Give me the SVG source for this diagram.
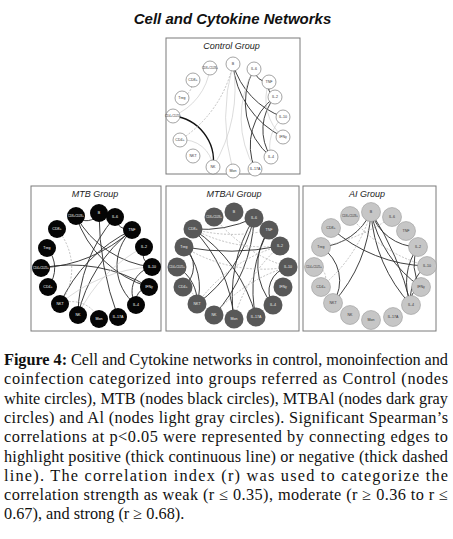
<svg xmlns="http://www.w3.org/2000/svg" width="453" height="539" viewBox="0 0 453 539">
<style>
.bg{fill:#fff}
.panel{fill:#fff;stroke:#7a7a7a;stroke-width:1}
.title{font-family:"Liberation Sans",Arial,sans-serif;font-weight:bold;font-style:italic;font-size:15px;text-anchor:middle;fill:#111}
.ptitle{font-family:"Liberation Sans",Arial,sans-serif;font-style:italic;font-size:9px;text-anchor:middle;fill:#222}
.cap{font-family:"Liberation Serif","Times New Roman",serif;font-size:16.3px;fill:#111}
.e{fill:none}
.s{stroke:#2a2a2a;stroke-width:.9}
.t{stroke:#111;stroke-width:1.3}
.g{stroke:#c4c4c4;stroke-width:.6}
.d{stroke:#a8a8a8;stroke-width:.7;stroke-dasharray:2 1.5}
.lbl{font-family:"Liberation Sans",Arial,sans-serif;font-size:3.6px;text-anchor:middle;dominant-baseline:central}
.sm{font-size:2.8px}
.ctl circle{fill:#fff;stroke:#666;stroke-width:.6}
.ctl text{fill:#333}
.mtb circle{fill:#050505}
.mtb text{fill:#fff}
.mtbai circle{fill:#585858}
.mtbai text{fill:#eee}
.ai circle{fill:#c6c6c6;stroke:#8c8c8c;stroke-width:.5}
.ai text{fill:#333}
</style>
<rect class="bg" x="0" y="0" width="453" height="539"/>
<text class="title" x="232.5" y="24">Cell and Cytokine Networks</text>

<rect class="panel" x="166" y="38" width="134" height="136"/>
<rect class="panel" x="31" y="186" width="130" height="145"/>
<rect class="panel" x="166" y="186" width="133" height="145"/>
<rect class="panel" x="303" y="186" width="133" height="145"/>
<text class="ptitle" x="231.5" y="49">Control Group</text>
<text class="ptitle" x="95" y="197">MTB Group</text>
<text class="ptitle" x="234" y="197">MTBAI Group</text>
<text class="ptitle" x="367" y="197">AI Group</text>

<g id="connectors" class="e">
<!-- control -->
<path class="s" d="M233 64 A80 80 0 0 0 283 117"/>
<path class="s" d="M233 64 A90 90 0 0 0 283 137"/>
<path class="s" d="M254 69 A14 14 0 0 0 269 82"/>
<path class="s" d="M269 82 A12 12 0 0 0 275 97"/>
<path class="s" d="M275 97 A60 60 0 0 0 255 169"/>
<path class="s" d="M254 69 A70 70 0 0 0 271 157"/>
<path class="s" d="M275 97 A50 50 0 0 0 271 157"/>
<path class="t" d="M213 167 A45 45 0 0 0 173 116"/>
<path class="d" d="M180 140 A120 120 0 0 0 233 64"/>
<path class="d" d="M182 98 A20 20 0 0 0 193 80"/>
<path class="g" d="M233 64 A200 200 0 0 0 233 171"/>
<path class="g" d="M213 167 A150 150 0 0 0 233 64"/>
<path class="g" d="M173 116 A60 60 0 0 0 210 68"/>
<path class="g" d="M213 167 A30 30 0 0 0 180 140"/>
<path class="g" d="M283 117 A40 40 0 0 0 271 157"/>
<path class="g" d="M269 82 A50 50 0 0 0 283 137"/>
<path class="g" d="M254 69 A100 100 0 0 0 255 169"/>
<!-- MTB -->
<path class="s" d="M76 216 A14 14 0 0 0 99 213"/>
<path class="s" d="M99 213 A300 300 0 0 0 118 317"/>
<path class="s" d="M76 216 A100 100 0 0 0 152 267"/>
<path class="s" d="M76 216 A110 110 0 0 0 149 287"/>
<path class="s" d="M41 268 A150 150 0 0 0 132 230"/>
<path class="s" d="M132 230 A150 150 0 0 0 78 315"/>
<path class="s" d="M132 230 A150 150 0 0 0 60 304"/>
<path class="s" d="M132 230 A50 50 0 0 0 136 305"/>
<path class="s" d="M149 287 A150 150 0 0 0 41 268"/>
<path class="s" d="M144 247 A15 15 0 0 0 152 267"/>
<path class="s" d="M152 267 A25 25 0 0 0 136 305"/>
<path class="s" d="M48 287 A30 30 0 0 0 47 248"/>
<path class="s" d="M115 217 A15 15 0 0 0 132 230"/>
<path class="s" d="M115 217 A150 150 0 0 0 78 315"/>
<path class="s" d="M149 287 A15 15 0 0 0 136 305"/>
<path class="d" d="M60 304 A60 60 0 0 0 57 229"/>
<path class="g" d="M152 267 A150 150 0 0 0 60 304"/>
<path class="g" d="M144 247 A150 150 0 0 0 78 315"/>
<path class="d" d="M99 319 A30 30 0 0 0 60 304"/>
<!-- MTBAI -->
<path class="s" d="M193 229 A120 120 0 0 0 254 218"/>
<path class="s" d="M197 304 A150 150 0 0 0 254 218"/>
<path class="s" d="M214 315 A150 150 0 0 0 254 218"/>
<path class="s" d="M234 319 A150 150 0 0 0 193 229"/>
<path class="s" d="M256 317 A150 150 0 0 0 193 229"/>
<path class="s" d="M184 247 A250 250 0 0 0 280 246"/>
<path class="s" d="M269 230 A120 120 0 0 0 256 317"/>
<path class="s" d="M288 267 A25 25 0 0 0 273 305"/>
<path class="s" d="M183 287 A25 25 0 0 0 184 247"/>
<path class="s" d="M197 304 A40 40 0 0 0 177 267"/>
<path class="s" d="M197 304 A60 60 0 0 0 184 247"/>
<path class="s" d="M269 230 A60 60 0 0 0 273 305"/>
<path class="s" d="M254 218 A150 150 0 0 0 234 319"/>
<path class="d" d="M193 229 A150 150 0 0 0 269 230"/>
<path class="d" d="M193 229 A150 150 0 0 0 280 246"/>
<path class="d" d="M184 247 A150 150 0 0 0 288 267"/>
<path class="d" d="M280 246 A150 150 0 0 0 197 304"/>
<path class="d" d="M288 267 A150 150 0 0 0 214 315"/>
<path class="d" d="M280 246 A150 150 0 0 0 234 319"/>
<path class="d" d="M197 304 A20 20 0 0 0 183 287"/>
<path class="d" d="M214 217 A150 150 0 0 0 288 267"/>
<!-- AI -->
<path class="s" d="M321 247 A60 60 0 0 0 371 212"/>
<path class="s" d="M333 303 A150 150 0 0 0 371 212"/>
<path class="s" d="M371 212 A50 50 0 0 0 418 247"/>
<path class="s" d="M371 212 A120 120 0 0 0 421 287"/>
<path class="s" d="M371 212 A150 150 0 0 0 411 305"/>
<path class="s" d="M371 212 A300 300 0 0 1 411 305"/>
<path class="s" d="M331 228 A150 150 0 0 0 427 266"/>
<path class="s" d="M333 303 A40 40 0 0 0 321 247"/>
<path class="s" d="M418 247 A60 60 0 0 0 411 305"/>
<path class="s" d="M418 247 A40 40 0 0 0 421 287"/>
<path class="s" d="M427 266 A40 40 0 0 0 411 305"/>
<path class="s" d="M421 287 A15 15 0 0 0 411 305"/>
<path class="d" d="M321 247 A200 200 0 0 0 392 217"/>
<path class="d" d="M321 287 A11 11 0 0 0 314 267"/>
<path class="d" d="M321 287 A150 150 0 0 0 371 212"/>
<path class="d" d="M350 216 A150 150 0 0 0 427 266"/>
</g>

<g class="ctl lbl">
<g id="c-B"><circle cx="233" cy="64" r="7"/><text x="233" y="64">B</text></g>
<g id="c-IL6"><circle cx="254" cy="69" r="7"/><text x="254" y="69">IL-6</text></g>
<g id="c-TNF"><circle cx="269" cy="82" r="7"/><text x="269" y="82">TNF</text></g>
<g id="c-IL2"><circle cx="275" cy="97" r="7"/><text x="275" y="97">IL-2</text></g>
<g id="c-IL10"><circle cx="283" cy="117" r="7"/><text x="283" y="117">IL-10</text></g>
<g id="c-IFNg"><circle cx="283" cy="137" r="7"/><text x="283" y="137">IFNγ</text></g>
<g id="c-IL4"><circle cx="271" cy="157" r="7"/><text x="271" y="157">IL-4</text></g>
<g id="c-IL17A"><circle cx="255" cy="169" r="7"/><text x="255" y="169">IL-17A</text></g>
<g id="c-Mon"><circle cx="233" cy="171" r="7"/><text x="233" y="171">Mon</text></g>
<g id="c-NK"><circle cx="213" cy="167" r="7"/><text x="213" y="167">NK</text></g>
<g id="c-NKT"><circle cx="193" cy="156" r="7"/><text x="193" y="156">NKT</text></g>
<g id="c-CD4"><circle cx="180" cy="140" r="7"/><text x="180" y="140">CD4+</text></g>
<g id="c-CD4CD25"><circle cx="173" cy="116" r="7"/><text class="sm" x="173" y="116">CD4+CD25+</text></g>
<g id="c-Treg"><circle cx="182" cy="98" r="7"/><text x="182" y="98">Treg</text></g>
<g id="c-CD8"><circle cx="193" cy="80" r="7"/><text x="193" y="80">CD8+</text></g>
<g id="c-CD8CD28"><circle cx="210" cy="68" r="7"/><text class="sm" x="210" y="68">CD8+CD28+</text></g>
</g>

<g class="mtb lbl">
<g id="m-B"><circle cx="99" cy="213" r="9"/><text x="99" y="213">B</text></g>
<g id="m-IL6"><circle cx="115" cy="217" r="9"/><text x="115" y="217">IL-6</text></g>
<g id="m-TNF"><circle cx="132" cy="230" r="9"/><text x="132" y="230">TNF</text></g>
<g id="m-IL2"><circle cx="144" cy="247" r="9"/><text x="144" y="247">IL-2</text></g>
<g id="m-IL10"><circle cx="152" cy="267" r="9"/><text x="152" y="267">IL-10</text></g>
<g id="m-IFNg"><circle cx="149" cy="287" r="9"/><text x="149" y="287">IFNγ</text></g>
<g id="m-IL4"><circle cx="136" cy="305" r="9"/><text x="136" y="305">IL-4</text></g>
<g id="m-IL17A"><circle cx="118" cy="317" r="9"/><text x="118" y="317">IL-17A</text></g>
<g id="m-Mon"><circle cx="99" cy="319" r="9"/><text x="99" y="319">Mon</text></g>
<g id="m-NK"><circle cx="78" cy="315" r="9"/><text x="78" y="315">NK</text></g>
<g id="m-NKT"><circle cx="60" cy="304" r="9"/><text x="60" y="304">NKT</text></g>
<g id="m-CD4"><circle cx="48" cy="287" r="9"/><text x="48" y="287">CD4+</text></g>
<g id="m-CD4CD25"><circle cx="41" cy="268" r="9"/><text class="sm" x="41" y="268">CD4+CD25+</text></g>
<g id="m-Treg"><circle cx="47" cy="248" r="9"/><text x="47" y="248">Treg</text></g>
<g id="m-CD8"><circle cx="57" cy="229" r="9"/><text x="57" y="229">CD8+</text></g>
<g id="m-CD8CD28"><circle cx="76" cy="216" r="9"/><text class="sm" x="76" y="216">CD8+CD28+</text></g>
</g>

<g class="mtbai lbl">
<g id="x-B"><circle cx="234" cy="212" r="9.5"/><text x="234" y="212">B</text></g>
<g id="x-IL6"><circle cx="254" cy="218" r="9.5"/><text x="254" y="218">IL-6</text></g>
<g id="x-TNF"><circle cx="269" cy="230" r="9.5"/><text x="269" y="230">TNF</text></g>
<g id="x-IL2"><circle cx="280" cy="246" r="9.5"/><text x="280" y="246">IL-2</text></g>
<g id="x-IL10"><circle cx="288" cy="267" r="9.5"/><text x="288" y="267">IL-10</text></g>
<g id="x-IFNg"><circle cx="283" cy="287" r="9.5"/><text x="283" y="287">IFNγ</text></g>
<g id="x-IL4"><circle cx="273" cy="305" r="9.5"/><text x="273" y="305">IL-4</text></g>
<g id="x-IL17A"><circle cx="256" cy="317" r="9.5"/><text x="256" y="317">IL-17A</text></g>
<g id="x-Mon"><circle cx="234" cy="319" r="9.5"/><text x="234" y="319">Mon</text></g>
<g id="x-NK"><circle cx="214" cy="315" r="9.5"/><text x="214" y="315">NK</text></g>
<g id="x-NKT"><circle cx="197" cy="304" r="9.5"/><text x="197" y="304">NKT</text></g>
<g id="x-CD4"><circle cx="183" cy="287" r="9.5"/><text x="183" y="287">CD4+</text></g>
<g id="x-CD4CD25"><circle cx="177" cy="267" r="9.5"/><text class="sm" x="177" y="267">CD4+CD25+</text></g>
<g id="x-Treg"><circle cx="184" cy="247" r="9.5"/><text x="184" y="247">Treg</text></g>
<g id="x-CD8"><circle cx="193" cy="229" r="9.5"/><text x="193" y="229">CD8+</text></g>
<g id="x-CD8CD28"><circle cx="214" cy="217" r="9.5"/><text class="sm" x="214" y="217">CD8+CD28+</text></g>
</g>

<g class="ai lbl">
<g id="a-B"><circle cx="371" cy="212" r="9.5"/><text x="371" y="212">B</text></g>
<g id="a-IL6"><circle cx="392" cy="217" r="9.5"/><text x="392" y="217">IL-6</text></g>
<g id="a-TNF"><circle cx="406" cy="231" r="9.5"/><text x="406" y="231">TNF</text></g>
<g id="a-IL2"><circle cx="418" cy="247" r="9.5"/><text x="418" y="247">IL-2</text></g>
<g id="a-IL10"><circle cx="427" cy="266" r="9.5"/><text x="427" y="266">IL-10</text></g>
<g id="a-IFNg"><circle cx="421" cy="287" r="9.5"/><text x="421" y="287">IFNγ</text></g>
<g id="a-IL4"><circle cx="411" cy="305" r="9.5"/><text x="411" y="305">IL-4</text></g>
<g id="a-IL17A"><circle cx="393" cy="317" r="9.5"/><text x="393" y="317">IL-17A</text></g>
<g id="a-Mon"><circle cx="371" cy="320" r="9.5"/><text x="371" y="320">Mon</text></g>
<g id="a-NK"><circle cx="350" cy="315" r="9.5"/><text x="350" y="315">NK</text></g>
<g id="a-NKT"><circle cx="333" cy="303" r="9.5"/><text x="333" y="303">NKT</text></g>
<g id="a-CD4"><circle cx="321" cy="287" r="9.5"/><text x="321" y="287">CD4+</text></g>
<g id="a-CD4CD25"><circle cx="314" cy="267" r="9.5"/><text class="sm" x="314" y="267">CD4+CD25+</text></g>
<g id="a-Treg"><circle cx="321" cy="247" r="9.5"/><text x="321" y="247">Treg</text></g>
<g id="a-CD8"><circle cx="331" cy="228" r="9.5"/><text x="331" y="228">CD8+</text></g>
<g id="a-CD8CD28"><circle cx="350" cy="216" r="9.5"/><text class="sm" x="350" y="216">CD8+CD28+</text></g>
</g>

<g id="caption" class="cap">
<text x="4" y="365" textLength="444" lengthAdjust="spacing"><tspan font-weight="bold">Figure 4:</tspan> Cell and Cytokine networks in control, monoinfection and</text>
<text x="4" y="384.3" textLength="444" lengthAdjust="spacing">coinfection categorized into groups referred as Control (nodes</text>
<text x="4" y="403.6" textLength="444" lengthAdjust="spacing">white circles), MTB (nodes black circles), MTBAl (nodes dark gray</text>
<text x="4" y="422.9" textLength="444" lengthAdjust="spacing">circles) and Al (nodes light gray circles). Significant Spearman’s</text>
<text x="4" y="442.2" textLength="444" lengthAdjust="spacing">correlations at p&lt;0.05 were represented by connecting edges to</text>
<text x="4" y="461.5" textLength="444" lengthAdjust="spacing">highlight positive (thick continuous line) or negative (thick dashed</text>
<text x="4" y="480.8" textLength="444" lengthAdjust="spacing">line). The correlation index (r) was used to categorize the</text>
<text x="4" y="500.1" textLength="444" lengthAdjust="spacing">correlation strength as weak (r ≤ 0.35), moderate (r ≥ 0.36 to r ≤</text>
<text x="4" y="519.4">0.67), and strong (r ≥ 0.68).</text>
</g>
</svg>
